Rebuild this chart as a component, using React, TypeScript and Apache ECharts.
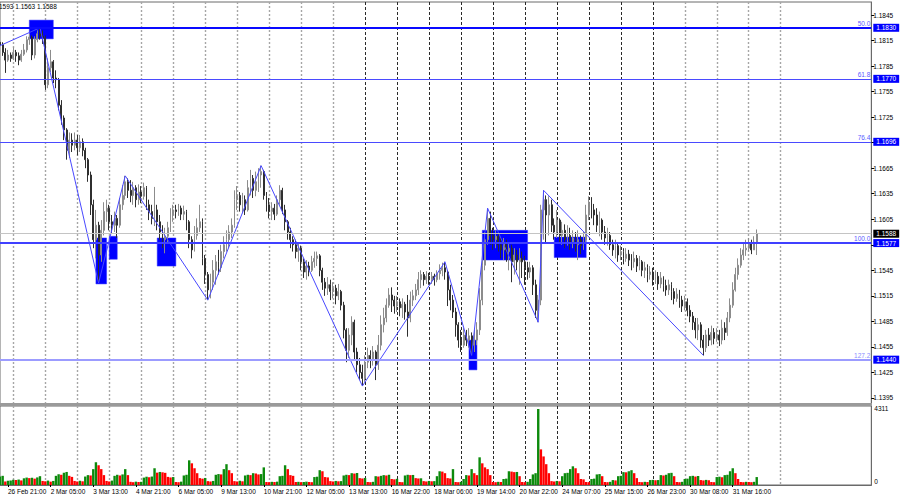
import React, { useEffect, useRef } from 'react';
import * as echarts from 'echarts';

const FONT = 'Liberation Sans, Arial, sans-serif';

const timeLabels = ['26 Feb 21:00', '2 Mar 05:00', '3 Mar 13:00', '4 Mar 21:00', '6 Mar 05:00', '9 Mar 13:00', '10 Mar 21:00', '12 Mar 05:00', '13 Mar 13:00', '16 Mar 22:00', '18 Mar 06:00', '19 Mar 14:00', '20 Mar 22:00', '24 Mar 07:00', '25 Mar 15:00', '26 Mar 23:00', '30 Mar 08:00', '31 Mar 16:00'];
const slotCount = 328;
const priceTicks = [1.1395, 1.1425, 1.1455, 1.1485, 1.1515, 1.1545, 1.1575, 1.1605, 1.1635, 1.1665, 1.1695, 1.1725, 1.1755, 1.1785, 1.1815, 1.1845];
const priceTickLabels = [1.1395, 1.1425, 1.1455, 1.1485, 1.1515, 1.1545, 1.1605, 1.1635, 1.1665, 1.1725, 1.1755, 1.1785, 1.1815, 1.1845];
const volumeTicks = [0, 4311];
const levels = [1.1830, 1.1770, 1.1696, 1.1577, 1.1440];
const levelNames = ['50.0', '61.8', '76.4', '100.0', '127.2'];
const bidPrice = 1.1588;

const openP = [
  1.1813, 1.1810, 1.1801, 1.1792, 1.1798, 1.1794, 1.1801, 1.1797, 1.1792, 1.1799,
  1.1804, 1.1816, 1.1819, 1.1798, 1.1816, 1.1823, 1.1820, 1.1818, 1.1763, 1.1783,
  1.1790, 1.1771, 1.1769, 1.1739, 1.1724, 1.1710, 1.1686, 1.1698, 1.1692, 1.1698,
  1.1689, 1.1696, 1.1686, 1.1675, 1.1657, 1.1622, 1.1581, 1.1598, 1.1563, 1.1592,
  1.1614, 1.1618, 1.1602, 1.1598, 1.1606, 1.1598, 1.1622, 1.1633, 1.1649, 1.1639,
  1.1633, 1.1642, 1.1628, 1.1637, 1.1632, 1.1642, 1.1622, 1.1614, 1.1606, 1.1616,
  1.1602, 1.1590, 1.1581, 1.1585, 1.1595, 1.1610, 1.1616, 1.1614, 1.1618, 1.1611,
  1.1614, 1.1602, 1.1581, 1.1569, 1.1586, 1.1595, 1.1602, 1.1559, 1.1540, 1.1522,
  1.1531, 1.1545, 1.1555, 1.1548, 1.1567, 1.1575, 1.1581, 1.1590, 1.1598, 1.1628,
  1.1633, 1.1622, 1.1628, 1.1616, 1.1642, 1.1653, 1.1639, 1.1649, 1.1657, 1.1661,
  1.1633, 1.1622, 1.1614, 1.1618, 1.1611, 1.1628, 1.1639, 1.1616, 1.1602, 1.1590,
  1.1581, 1.1575, 1.1567, 1.1571, 1.1555, 1.1543, 1.1550, 1.1545, 1.1555, 1.1559,
  1.1562, 1.1545, 1.1531, 1.1524, 1.1528, 1.1520, 1.1524, 1.1515, 1.1520, 1.1504,
  1.1475, 1.1451, 1.1469, 1.1484, 1.1449, 1.1434, 1.1425, 1.1418, 1.1437, 1.1445,
  1.1440, 1.1449, 1.1434, 1.1457, 1.1481, 1.1489, 1.1504, 1.1516, 1.1510, 1.1503,
  1.1508, 1.1501, 1.1505, 1.1496, 1.1489, 1.1510, 1.1515, 1.1522, 1.1534, 1.1540,
  1.1534, 1.1538, 1.1534, 1.1538, 1.1534, 1.1541, 1.1545, 1.1548, 1.1543, 1.1522,
  1.1510, 1.1496, 1.1481, 1.1463, 1.1457, 1.1469, 1.1463, 1.1468, 1.1457, 1.1463,
  1.1475, 1.1510, 1.1551, 1.1581, 1.1606, 1.1586, 1.1581, 1.1585, 1.1575, 1.1569,
  1.1576, 1.1567, 1.1571, 1.1555, 1.1563, 1.1555, 1.1559, 1.1555, 1.1548, 1.1543,
  1.1548, 1.1528, 1.1498, 1.1510, 1.1616, 1.1628, 1.1610, 1.1622, 1.1598, 1.1590,
  1.1604, 1.1586, 1.1592, 1.1581, 1.1586, 1.1578, 1.1583, 1.1575, 1.1581, 1.1574,
  1.1581, 1.1610, 1.1625, 1.1616, 1.1610, 1.1598, 1.1604, 1.1590, 1.1583, 1.1586,
  1.1575, 1.1569, 1.1574, 1.1563, 1.1567, 1.1559, 1.1564, 1.1557, 1.1555, 1.1559,
  1.1550, 1.1555, 1.1545, 1.1548, 1.1540, 1.1543, 1.1534, 1.1538, 1.1529, 1.1536,
  1.1527, 1.1522, 1.1528, 1.1520, 1.1512, 1.1517, 1.1510, 1.1503, 1.1508, 1.1498,
  1.1491, 1.1484, 1.1475, 1.1481, 1.1463, 1.1454, 1.1469, 1.1463, 1.1472, 1.1465,
  1.1469, 1.1463, 1.1477, 1.1472, 1.1489, 1.1504, 1.1522, 1.1540, 1.1551, 1.1563,
  1.1569, 1.1571, 1.1576, 1.1569, 1.1578,
];
const highP = [
  1.1818, 1.1813, 1.1806, 1.1804, 1.1801, 1.1807, 1.1804, 1.1801, 1.1804, 1.1811,
  1.1820, 1.1823, 1.1821, 1.1820, 1.1827, 1.1830, 1.1827, 1.1821, 1.1794, 1.1804,
  1.1792, 1.1780, 1.1771, 1.1745, 1.1727, 1.1712, 1.1707, 1.1706, 1.1707, 1.1704,
  1.1704, 1.1700, 1.1689, 1.1677, 1.1661, 1.1628, 1.1616, 1.1602, 1.1604, 1.1625,
  1.1628, 1.1622, 1.1610, 1.1614, 1.1610, 1.1630, 1.1645, 1.1656, 1.1653, 1.1651,
  1.1649, 1.1645, 1.1646, 1.1644, 1.1648, 1.1644, 1.1628, 1.1622, 1.1643, 1.1622,
  1.1610, 1.1598, 1.1595, 1.1602, 1.1618, 1.1622, 1.1622, 1.1623, 1.1621, 1.1621,
  1.1616, 1.1604, 1.1585, 1.1597, 1.1606, 1.1622, 1.1606, 1.1563, 1.1543, 1.1541,
  1.1557, 1.1563, 1.1569, 1.1575, 1.1585, 1.1592, 1.1598, 1.1606, 1.1639, 1.1644,
  1.1637, 1.1636, 1.1633, 1.1651, 1.1663, 1.1657, 1.1661, 1.1665, 1.1668, 1.1663,
  1.1637, 1.1630, 1.1625, 1.1623, 1.1633, 1.1645, 1.1642, 1.1622, 1.1604, 1.1595,
  1.1585, 1.1581, 1.1578, 1.1574, 1.1559, 1.1557, 1.1555, 1.1562, 1.1567, 1.1567,
  1.1564, 1.1548, 1.1536, 1.1537, 1.1534, 1.1531, 1.1528, 1.1529, 1.1522, 1.1508,
  1.1477, 1.1477, 1.1491, 1.1487, 1.1454, 1.1442, 1.1434, 1.1445, 1.1454, 1.1451,
  1.1456, 1.1451, 1.1469, 1.1492, 1.1501, 1.1512, 1.1524, 1.1525, 1.1515, 1.1515,
  1.1512, 1.1512, 1.1508, 1.1516, 1.1520, 1.1522, 1.1529, 1.1543, 1.1545, 1.1543,
  1.1544, 1.1542, 1.1543, 1.1541, 1.1545, 1.1552, 1.1554, 1.1555, 1.1545, 1.1528,
  1.1516, 1.1501, 1.1484, 1.1475, 1.1477, 1.1475, 1.1477, 1.1472, 1.1475, 1.1484,
  1.1524, 1.1563, 1.1590, 1.1618, 1.1614, 1.1595, 1.1592, 1.1590, 1.1583, 1.1583,
  1.1581, 1.1578, 1.1575, 1.1571, 1.1569, 1.1571, 1.1567, 1.1562, 1.1555, 1.1555,
  1.1551, 1.1534, 1.1516, 1.1622, 1.1639, 1.1633, 1.1632, 1.1628, 1.1606, 1.1616,
  1.1606, 1.1602, 1.1599, 1.1598, 1.1595, 1.1592, 1.1590, 1.1592, 1.1586, 1.1590,
  1.1622, 1.1632, 1.1631, 1.1623, 1.1618, 1.1614, 1.1606, 1.1597, 1.1595, 1.1590,
  1.1581, 1.1581, 1.1576, 1.1574, 1.1571, 1.1571, 1.1569, 1.1564, 1.1567, 1.1563,
  1.1562, 1.1557, 1.1555, 1.1552, 1.1550, 1.1548, 1.1545, 1.1543, 1.1543, 1.1538,
  1.1534, 1.1534, 1.1531, 1.1524, 1.1524, 1.1522, 1.1515, 1.1515, 1.1512, 1.1504,
  1.1496, 1.1489, 1.1489, 1.1484, 1.1469, 1.1475, 1.1477, 1.1480, 1.1477, 1.1477,
  1.1475, 1.1487, 1.1484, 1.1496, 1.1512, 1.1531, 1.1548, 1.1559, 1.1571, 1.1578,
  1.1581, 1.1583, 1.1581, 1.1585, 1.1593,
];
const lowP = [
  1.1804, 1.1797, 1.1777, 1.1790, 1.1790, 1.1792, 1.1790, 1.1786, 1.1790, 1.1797,
  1.1801, 1.1810, 1.1792, 1.1794, 1.1813, 1.1816, 1.1811, 1.1757, 1.1759, 1.1778,
  1.1765, 1.1759, 1.1733, 1.1716, 1.1698, 1.1675, 1.1677, 1.1684, 1.1686, 1.1680,
  1.1684, 1.1679, 1.1665, 1.1649, 1.1610, 1.1571, 1.1559, 1.1530, 1.1555, 1.1586,
  1.1602, 1.1592, 1.1588, 1.1590, 1.1583, 1.1595, 1.1616, 1.1628, 1.1630, 1.1625,
  1.1622, 1.1619, 1.1622, 1.1624, 1.1628, 1.1616, 1.1604, 1.1599, 1.1597, 1.1592,
  1.1581, 1.1571, 1.1565, 1.1578, 1.1590, 1.1602, 1.1606, 1.1609, 1.1604, 1.1604,
  1.1592, 1.1571, 1.1559, 1.1567, 1.1581, 1.1590, 1.1551, 1.1529, 1.1510, 1.1512,
  1.1522, 1.1528, 1.1540, 1.1543, 1.1559, 1.1567, 1.1571, 1.1583, 1.1595, 1.1616,
  1.1614, 1.1612, 1.1610, 1.1614, 1.1633, 1.1630, 1.1632, 1.1637, 1.1642, 1.1628,
  1.1614, 1.1606, 1.1604, 1.1604, 1.1609, 1.1622, 1.1611, 1.1592, 1.1581, 1.1571,
  1.1567, 1.1559, 1.1555, 1.1545, 1.1536, 1.1534, 1.1538, 1.1543, 1.1548, 1.1550,
  1.1538, 1.1522, 1.1515, 1.1516, 1.1510, 1.1512, 1.1505, 1.1510, 1.1498, 1.1465,
  1.1437, 1.1442, 1.1457, 1.1440, 1.1425, 1.1416, 1.1409, 1.1414, 1.1430, 1.1430,
  1.1433, 1.1416, 1.1428, 1.1451, 1.1472, 1.1484, 1.1501, 1.1496, 1.1494, 1.1496,
  1.1491, 1.1489, 1.1487, 1.1467, 1.1484, 1.1503, 1.1510, 1.1516, 1.1524, 1.1527,
  1.1529, 1.1528, 1.1529, 1.1527, 1.1531, 1.1534, 1.1538, 1.1534, 1.1503, 1.1498,
  1.1489, 1.1467, 1.1454, 1.1449, 1.1454, 1.1456, 1.1454, 1.1445, 1.1449, 1.1457,
  1.1469, 1.1504, 1.1545, 1.1575, 1.1575, 1.1569, 1.1571, 1.1567, 1.1559, 1.1557,
  1.1555, 1.1545, 1.1531, 1.1540, 1.1545, 1.1528, 1.1536, 1.1528, 1.1534, 1.1536,
  1.1516, 1.1489, 1.1484, 1.1504, 1.1581, 1.1578, 1.1586, 1.1590, 1.1581, 1.1583,
  1.1578, 1.1575, 1.1571, 1.1574, 1.1569, 1.1571, 1.1567, 1.1557, 1.1564, 1.1569,
  1.1578, 1.1604, 1.1606, 1.1598, 1.1590, 1.1585, 1.1581, 1.1575, 1.1574, 1.1569,
  1.1562, 1.1559, 1.1555, 1.1557, 1.1552, 1.1555, 1.1550, 1.1545, 1.1548, 1.1543,
  1.1545, 1.1538, 1.1536, 1.1531, 1.1534, 1.1527, 1.1529, 1.1522, 1.1524, 1.1520,
  1.1515, 1.1516, 1.1510, 1.1505, 1.1508, 1.1501, 1.1496, 1.1498, 1.1491, 1.1484,
  1.1475, 1.1465, 1.1463, 1.1454, 1.1445, 1.1449, 1.1456, 1.1457, 1.1458, 1.1461,
  1.1456, 1.1458, 1.1463, 1.1468, 1.1484, 1.1501, 1.1520, 1.1534, 1.1548, 1.1557,
  1.1562, 1.1567, 1.1564, 1.1569, 1.1563,
];
const closeP = [
  1.1810, 1.1801, 1.1792, 1.1798, 1.1794, 1.1801, 1.1797, 1.1792, 1.1799, 1.1804,
  1.1816, 1.1819, 1.1798, 1.1816, 1.1823, 1.1820, 1.1818, 1.1763, 1.1783, 1.1790,
  1.1771, 1.1769, 1.1739, 1.1724, 1.1710, 1.1686, 1.1698, 1.1692, 1.1698, 1.1689,
  1.1696, 1.1686, 1.1675, 1.1657, 1.1622, 1.1581, 1.1598, 1.1563, 1.1592, 1.1614,
  1.1618, 1.1602, 1.1598, 1.1606, 1.1598, 1.1622, 1.1633, 1.1649, 1.1639, 1.1633,
  1.1642, 1.1628, 1.1637, 1.1632, 1.1642, 1.1622, 1.1614, 1.1606, 1.1616, 1.1602,
  1.1590, 1.1581, 1.1585, 1.1595, 1.1610, 1.1616, 1.1614, 1.1618, 1.1611, 1.1614,
  1.1602, 1.1581, 1.1569, 1.1586, 1.1595, 1.1602, 1.1559, 1.1540, 1.1522, 1.1531,
  1.1545, 1.1555, 1.1548, 1.1567, 1.1575, 1.1581, 1.1590, 1.1598, 1.1628, 1.1633,
  1.1622, 1.1628, 1.1616, 1.1642, 1.1653, 1.1639, 1.1649, 1.1657, 1.1661, 1.1633,
  1.1622, 1.1614, 1.1618, 1.1611, 1.1628, 1.1639, 1.1616, 1.1602, 1.1590, 1.1581,
  1.1575, 1.1567, 1.1571, 1.1555, 1.1543, 1.1550, 1.1545, 1.1555, 1.1559, 1.1562,
  1.1545, 1.1531, 1.1524, 1.1528, 1.1520, 1.1524, 1.1515, 1.1520, 1.1504, 1.1475,
  1.1451, 1.1469, 1.1484, 1.1449, 1.1434, 1.1425, 1.1418, 1.1437, 1.1445, 1.1440,
  1.1449, 1.1434, 1.1457, 1.1481, 1.1489, 1.1504, 1.1516, 1.1510, 1.1503, 1.1508,
  1.1501, 1.1505, 1.1496, 1.1489, 1.1510, 1.1515, 1.1522, 1.1534, 1.1540, 1.1534,
  1.1538, 1.1534, 1.1538, 1.1534, 1.1541, 1.1545, 1.1548, 1.1543, 1.1522, 1.1510,
  1.1496, 1.1481, 1.1463, 1.1457, 1.1469, 1.1463, 1.1468, 1.1457, 1.1463, 1.1475,
  1.1510, 1.1551, 1.1581, 1.1606, 1.1586, 1.1581, 1.1585, 1.1575, 1.1569, 1.1576,
  1.1567, 1.1571, 1.1555, 1.1563, 1.1555, 1.1559, 1.1555, 1.1548, 1.1543, 1.1548,
  1.1528, 1.1498, 1.1510, 1.1616, 1.1628, 1.1610, 1.1622, 1.1598, 1.1590, 1.1604,
  1.1586, 1.1592, 1.1581, 1.1586, 1.1578, 1.1583, 1.1575, 1.1581, 1.1574, 1.1581,
  1.1610, 1.1625, 1.1616, 1.1610, 1.1598, 1.1604, 1.1590, 1.1583, 1.1586, 1.1575,
  1.1569, 1.1574, 1.1563, 1.1567, 1.1559, 1.1564, 1.1557, 1.1555, 1.1559, 1.1550,
  1.1555, 1.1545, 1.1548, 1.1540, 1.1543, 1.1534, 1.1538, 1.1529, 1.1536, 1.1527,
  1.1522, 1.1528, 1.1520, 1.1512, 1.1517, 1.1510, 1.1503, 1.1508, 1.1498, 1.1491,
  1.1484, 1.1475, 1.1481, 1.1463, 1.1454, 1.1469, 1.1463, 1.1472, 1.1465, 1.1469,
  1.1463, 1.1477, 1.1472, 1.1489, 1.1504, 1.1522, 1.1540, 1.1551, 1.1563, 1.1569,
  1.1571, 1.1576, 1.1569, 1.1578, 1.1588,
];
const volume = [
  480, 520, 200, 240, 260, 300, 280, 310, 260, 380,
  420, 390, 410, 360, 430, 500, 230, 210, 250, 190,
  230, 520, 610, 580, 700, 740, 520, 460, 230, 200,
  240, 210, 480, 560, 540, 900, 1290, 1120, 900, 560,
  230, 200, 250, 520, 580, 540, 600, 900, 560, 180,
  160, 190, 170, 180, 420, 470, 440, 480, 950, 700,
  740, 720, 690, 460, 430, 450, 170, 160, 190, 540,
  580, 1400, 1230, 950, 670, 390, 360, 400, 220, 200,
  230, 580, 620, 600, 900, 1180, 840, 670, 220, 200,
  240, 210, 540, 580, 560, 670, 650, 600, 620, 1000,
  170, 160, 180, 170, 190, 500, 520, 1120, 900, 560,
  520, 170, 180, 160, 170, 190, 170, 160, 450, 470,
  840, 780, 450, 430, 220, 200, 230, 210, 220, 540,
  580, 560, 670, 650, 680, 390, 370, 400, 170, 160,
  180, 500, 480, 520, 560, 540, 580, 340, 320, 350,
  170, 160, 540, 580, 560, 570, 390, 370, 380, 220,
  200, 230, 210, 220, 500, 780, 760, 670, 390, 370,
  900, 170, 160, 180, 340, 560, 540, 900, 670, 560,
  1570, 1230, 1000, 900, 560, 170, 160, 180, 170, 340,
  360, 780, 760, 730, 740, 500, 170, 160, 180, 340,
  600, 670, 4311, 2020, 1620, 1180, 670, 220, 200, 230,
  210, 500, 670, 690, 900, 1060, 950, 670, 340, 320,
  170, 160, 340, 360, 600, 620, 500, 170, 160, 180,
  280, 260, 500, 520, 730, 720, 780, 840, 670, 390,
  170, 160, 180, 170, 280, 290, 270, 280, 560, 540,
  580, 670, 690, 500, 170, 160, 180, 340, 360, 500,
  520, 480, 510, 280, 260, 290, 270, 170, 160, 450,
  470, 440, 560, 580, 780, 950, 670, 340, 170, 160,
  180, 170, 160, 180, 450,
];
const zigIndex = [0, 15, 37, 47, 78, 98, 136, 167, 177, 183, 202, 204, 264];
const zigPrice = [1.1809, 1.1830, 1.1530, 1.1656, 1.1510, 1.1668, 1.1409, 1.1555, 1.1445, 1.1618, 1.1484, 1.1639, 1.1445];
const boxStart = [11, 36, 41, 59, 181, 176, 208];
const boxEnd = [20, 40, 44, 66, 198, 179, 220];
const boxTop = [1.1839, 1.1583, 1.1585, 1.1583, 1.1592, 1.1463, 1.1584];
const boxBottom = [1.1817, 1.1529, 1.1558, 1.1550, 1.1557, 1.1428, 1.1560];

const levelColors = ['#0a0aff', '#4a4aff', '#4a4aff', '#4040ff', '#9c9cff'];
const levelWidths = [2, 1, 1, 2, 2];
const levelTextColors = ['#5a5aff', '#5a5aff', '#5a5aff', '#5a5aff', '#8c8cff'];

const isGridLine = (i: number) => i % 12 === 5 && i <= 293;
const isDarkLine = (i: number) => isGridLine(i) && i >= 137 && i <= 245;
const isGrayLine = (i: number) => isGridLine(i) && !(i >= 137 && i <= 245);
const isLabelSlot = (i: number) => i % 16 === 3 && (i - 3) / 16 < timeLabels.length;

export default function App() {
  const ref = useRef<HTMLDivElement>(null);
  useEffect(() => {
    if (!ref.current) return;
    const chart = echarts.init(ref.current, undefined, { renderer: 'svg' });
    const cats = Array.from({ length: slotCount }, (_, k) => String(k));
    const grayLine = { color: '#a6a6a6', width: 1.4, type: [2, 2] };
    const darkLine = { color: '#2a2a2a', width: 1, type: [3, 2] };
    const hiddenCat = (gridIndex: number, interval: (i: number) => boolean, lineStyle: any) => ({
      type: 'category', gridIndex, data: cats, boundaryGap: false,
      axisLine: { show: false }, axisTick: { show: false }, axisLabel: { show: false },
      splitLine: { show: true, interval: (i: number) => interval(i), lineStyle },
    });
    const boxLabel = (text: string, bg: string) => ({
      show: true, position: 'end', distance: 2, formatter: text,
      color: '#ffffff', backgroundColor: bg, padding: [1, 3, 0, 3],
      fontSize: 6.5, fontFamily: FONT,
    });
    const levelMarks: any[] = levels.map((lv, k) => ({
      yAxis: lv,
      lineStyle: { color: levelColors[k], width: levelWidths[k], type: 'solid' },
      label: boxLabel(lv.toFixed(4), '#0000ff'),
    }));
    levelMarks.push({
      yAxis: bidPrice,
      lineStyle: { color: '#c4c4c4', width: 1, type: 'solid' },
      label: boxLabel(bidPrice.toFixed(4), '#000000'),
    });
    const nameMarks: any[] = levels.map((lv, k) => ({
      yAxis: lv,
      lineStyle: { color: 'rgba(0,0,0,0)', width: 1 },
      label: {
        show: true, position: 'insideEndTop', distance: 1, formatter: levelNames[k],
        color: levelTextColors[k], fontSize: 6.5, fontFamily: FONT,
      },
    }));

    const option: any = {
      animation: false,
      backgroundColor: '#ffffff',
      grid: [
        { left: -0.7, top: 2, width: 872, height: 402, show: true, borderColor: '#6a6a6a', borderWidth: 1 },
        { left: -0.7, top: 406, width: 872, height: 79, show: true, borderColor: '#6a6a6a', borderWidth: 1 },
      ],
      xAxis: [
        hiddenCat(0, isGrayLine, grayLine),
        hiddenCat(0, isDarkLine, darkLine),
        {
          type: 'category', gridIndex: 1, data: cats, boundaryGap: false,
          axisLine: { show: true, lineStyle: { color: '#6a6a6a' } },
          axisTick: { show: true, interval: (i: number) => isLabelSlot(i), length: 2, lineStyle: { color: '#000' } },
          axisLabel: {
            show: true, interval: (i: number) => isLabelSlot(i), align: 'left', margin: 3,
            fontSize: 6.5, fontFamily: FONT, color: '#000',
            formatter: (v: string) => {
              const idx = Number(v);
              return isLabelSlot(idx) ? timeLabels[(idx - 3) / 16] : '';
            },
          },
          splitLine: { show: true, interval: (i: number) => isGrayLine(i), lineStyle: grayLine },
        },
        hiddenCat(1, isDarkLine, darkLine),
      ],
      yAxis: [
        {
          type: 'value', gridIndex: 0, position: 'right', min: 1.13879, max: 1.18603,
          axisLine: { show: true, lineStyle: { color: '#6a6a6a' } },
          axisTick: { show: true, length: 3, customValues: priceTicks, lineStyle: { color: '#000' } },
          axisLabel: {
            show: true, customValues: priceTickLabels, margin: 2, fontSize: 6.5, fontFamily: FONT, color: '#000',
            formatter: (v: number) => v.toFixed(4),
          },
          splitLine: { show: false },
        },
        {
          type: 'value', gridIndex: 1, position: 'right', min: 0, max: 4480,
          axisLine: { show: true, lineStyle: { color: '#6a6a6a' } },
          axisTick: { show: false, customValues: volumeTicks },
          axisLabel: {
            show: true, customValues: volumeTicks, margin: 3, fontSize: 6.5, fontFamily: FONT, color: '#000',
            formatter: (v: number) => (v === 0 ? '{z|0}' : `{t|${v}}`),
            rich: { z: { padding: [0, 0, 8, 0], fontSize: 6.5, fontFamily: FONT }, t: { fontSize: 6.5, fontFamily: FONT } },
          },
          splitLine: { show: false },
        },
      ],
      graphic: [
        { type: 'rect', shape: { x: 0, y: 403, width: 872, height: 3 }, style: { fill: '#9a9a9a' }, z: 100 },
        { type: 'text', x: -1, y: 3, style: { text: '1593 1.1563 1.1588', fontSize: 6.5, fontFamily: FONT, fill: '#000' }, z: 100 },
      ],
      series: [
        {
          type: 'line', xAxisIndex: 0, yAxisIndex: 0, data: [], z: 1, silent: true,
          markArea: {
            silent: true,
            itemStyle: { color: '#0000ff', borderColor: '#3030ff', borderWidth: 0.5 },
            data: boxStart.map((s, k) => [{ xAxis: s, yAxis: boxTop[k] }, { xAxis: boxEnd[k], yAxis: boxBottom[k] }]),
          },
        },
        {
          type: 'candlestick', xAxisIndex: 0, yAxisIndex: 0, z: 2, barWidth: 1.4, silent: true,
          data: openP.map((o, k) => [o, closeP[k], lowP[k], highP[k]]),
          itemStyle: { color: '#8c8c8c', color0: '#2f2f2f', borderColor: '#8c8c8c', borderColor0: '#2f2f2f', borderWidth: 1 },
        },
        {
          type: 'scatter', xAxisIndex: 0, yAxisIndex: 0, z: 3, silent: true, symbolSize: 0,
          data: levels.map((lv) => [0, lv]),
          markLine: { silent: true, precision: 4, symbol: ['none', 'none'], animation: false, data: levelMarks },
        },
        {
          type: 'scatter', xAxisIndex: 0, yAxisIndex: 0, z: 3, silent: true, symbolSize: 0,
          data: levels.map((lv) => [0, lv]),
          markLine: { silent: true, precision: 4, symbol: ['none', 'none'], animation: false, data: nameMarks },
        },
        {
          type: 'line', xAxisIndex: 0, yAxisIndex: 0, z: 4, silent: true, symbol: 'none',
          data: zigIndex.map((x, k) => [x, zigPrice[k]]),
          lineStyle: { color: '#4848ff', width: 1 },
        },
        {
          type: 'bar', xAxisIndex: 2, yAxisIndex: 1, barWidth: 2.4, silent: true,
          data: volume.map((v, k) => ({
            value: v,
            itemStyle: { color: k === 0 || v > volume[k - 1] ? '#0c8a0c' : '#ff0000' },
          })),
        },
      ],
    };
    chart.setOption(option);
    return () => chart.dispose();
  }, []);
  return <div ref={ref} style={{ position: 'fixed', left: 0, top: 0, width: 900, height: 500 }} />;
}
